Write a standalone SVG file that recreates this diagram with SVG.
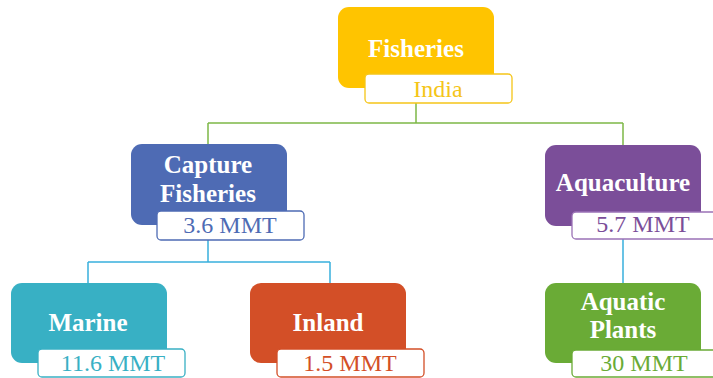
<svg xmlns="http://www.w3.org/2000/svg" width="713" height="378" viewBox="0 0 713 378">
<style>
.t{font-family:"Liberation Serif","Times New Roman",serif;font-weight:bold;font-size:25px;fill:#fff;text-anchor:middle}
.l{font-family:"Liberation Serif","Times New Roman",serif;font-size:24px;text-anchor:middle}
.lb{fill:#fff;stroke-width:1.3}
.c{fill:none;stroke-width:1.5}
</style>
<rect width="713" height="378" fill="#fff"/>
<g id="connectors">
<path class="c" stroke="#7DB847" d="M416 103V123M208 123H623M208 123V145M623 123V145"/>
<path class="c" stroke="#38B0DD" d="M208 240V262M88 262H330M88 262V283M330 262V283M623 239V283"/>
</g>
<g id="fisheries">
<rect x="338" y="7" width="156" height="81" rx="11" fill="#FFC400"/>
<text class="t" x="416" y="57">Fisheries</text>
<rect class="lb" x="365" y="74" width="147" height="29" rx="4" stroke="#F5C518"/>
<text class="l" x="438" y="97" fill="#F5C518">India</text>
</g>
<g id="capture">
<rect x="131" y="144" width="156" height="81" rx="11" fill="#4E6BB4"/>
<text class="t" x="208" y="173">Capture</text>
<text class="t" x="208" y="202">Fisheries</text>
<rect class="lb" x="157" y="211" width="147" height="29" rx="4" stroke="#4E6BB4"/>
<text class="l" x="230" y="233" fill="#4E6BB4">3.6 MMT</text>
</g>
<g id="aquaculture">
<rect x="545" y="145" width="156" height="81" rx="11" fill="#7B4E99"/>
<text class="t" x="623" y="191">Aquaculture</text>
<rect class="lb" x="572" y="212" width="147" height="27" rx="4" stroke="#9B72B6"/>
<text class="l" x="643" y="232" fill="#7B4E99">5.7 MMT</text>
</g>
<g id="marine">
<rect x="11" y="283" width="156" height="80" rx="11" fill="#38B0C4"/>
<text class="t" x="88" y="331">Marine</text>
<rect class="lb" x="38" y="349" width="147" height="28" rx="4" stroke="#38B0C4"/>
<text class="l" x="113" y="371" fill="#38B0C4">11.6 MMT</text>
</g>
<g id="inland">
<rect x="250" y="283" width="156" height="80" rx="11" fill="#D34F27"/>
<text class="t" x="328" y="331">Inland</text>
<rect class="lb" x="277" y="349" width="147" height="28" rx="4" stroke="#D34F27"/>
<text class="l" x="350" y="371" fill="#D34F27">1.5 MMT</text>
</g>
<g id="aquatic">
<rect x="545" y="283" width="156" height="80" rx="11" fill="#6AAB36"/>
<text class="t" x="623" y="310">Aquatic</text>
<text class="t" x="623" y="338">Plants</text>
<rect class="lb" x="572" y="350" width="147" height="27" rx="4" stroke="#6AAB36"/>
<text class="l" x="644" y="371" fill="#6AAB36">30 MMT</text>
</g>
</svg>
